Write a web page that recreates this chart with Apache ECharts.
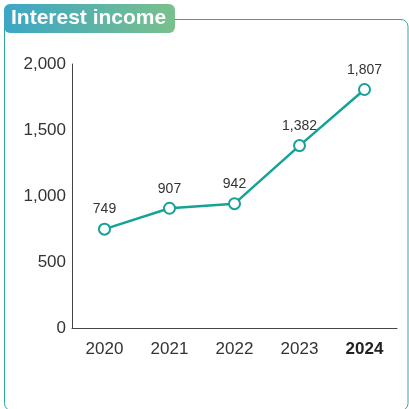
<!DOCTYPE html>
<html>
<head>
<meta charset="utf-8">
<script src="https://cdn.jsdelivr.net/npm/echarts@6/dist/echarts.min.js"></script>
<style>
  html, body { margin: 0; padding: 0; background: #fff; }
  #chart { width: 409px; height: 409px; }
</style>
</head>
<body>
<div id="chart"></div>
<script>
const years = ['2020', '2021', '2022', '2023', '2024'];
const income = [749, 907, 942, 1382, 1807];
const yTicks = [0, 500, 1000, 1500, 2000];

const chart = echarts.init(document.getElementById('chart'));
const font = 'Liberation Sans, Arial, sans-serif';

chart.setOption({
  textStyle: { fontFamily: font },
  graphic: [
    {
      type: 'rect',
      shape: { x: 4.5, y: 19.5, width: 403.5, height: 391, r: 7 },
      style: { fill: 'none', stroke: '#2fa89c', lineWidth: 1 },
      z: 0
    },
    {
      type: 'rect',
      shape: { x: 4, y: 4, width: 171, height: 29, r: 6 },
      style: {
        fill: new echarts.graphic.LinearGradient(0, 0, 1, 0, [
          { offset: 0, color: '#3ba6c6' },
          { offset: 1, color: '#7ac08c' }
        ])
      },
      z: 1
    },
    {
      type: 'text',
      left: 11,
      top: 8,
      style: {
        text: 'Interest income',
        fill: '#fff',
        font: 'bold 21px ' + font
      },
      z: 2
    }
  ],
  grid: { left: 72, right: 12, top: 64, bottom: 81 },
  xAxis: {
    type: 'category',
    data: years,
    boundaryGap: true,
    axisLine: { lineStyle: { color: '#444', width: 1 } },
    axisTick: { show: false },
    axisLabel: {
      interval: 0,
      fontSize: 17,
      color: '#333',
      margin: 13,
      formatter: v => v === '2024' ? '{b|' + v + '}' : v,
      rich: { b: { fontSize: 17, fontWeight: 'bold', color: '#222' } }
    }
  },
  yAxis: {
    type: 'value',
    min: 0,
    max: 2000,
    interval: 500,
    splitLine: { show: false },
    axisLine: { show: true, lineStyle: { color: '#444', width: 1 } },
    axisTick: { show: false },
    axisLabel: {
      fontSize: 17,
      color: '#333',
      margin: 6,
      formatter: v => yTicks.includes(v) ? v.toLocaleString('en-US') : ''
    }
  },
  series: [
    {
      type: 'line',
      data: income,
      symbol: 'circle',
      symbolSize: 11,
      lineStyle: { color: '#14a396', width: 2.5 },
      itemStyle: { color: '#fff', borderColor: '#14a396', borderWidth: 2 },
      label: {
        show: true,
        position: 'top',
        distance: 6,
        fontSize: 14,
        color: '#333',
        formatter: p => p.value.toLocaleString('en-US')
      }
    }
  ]
});
</script>
</body>
</html>
